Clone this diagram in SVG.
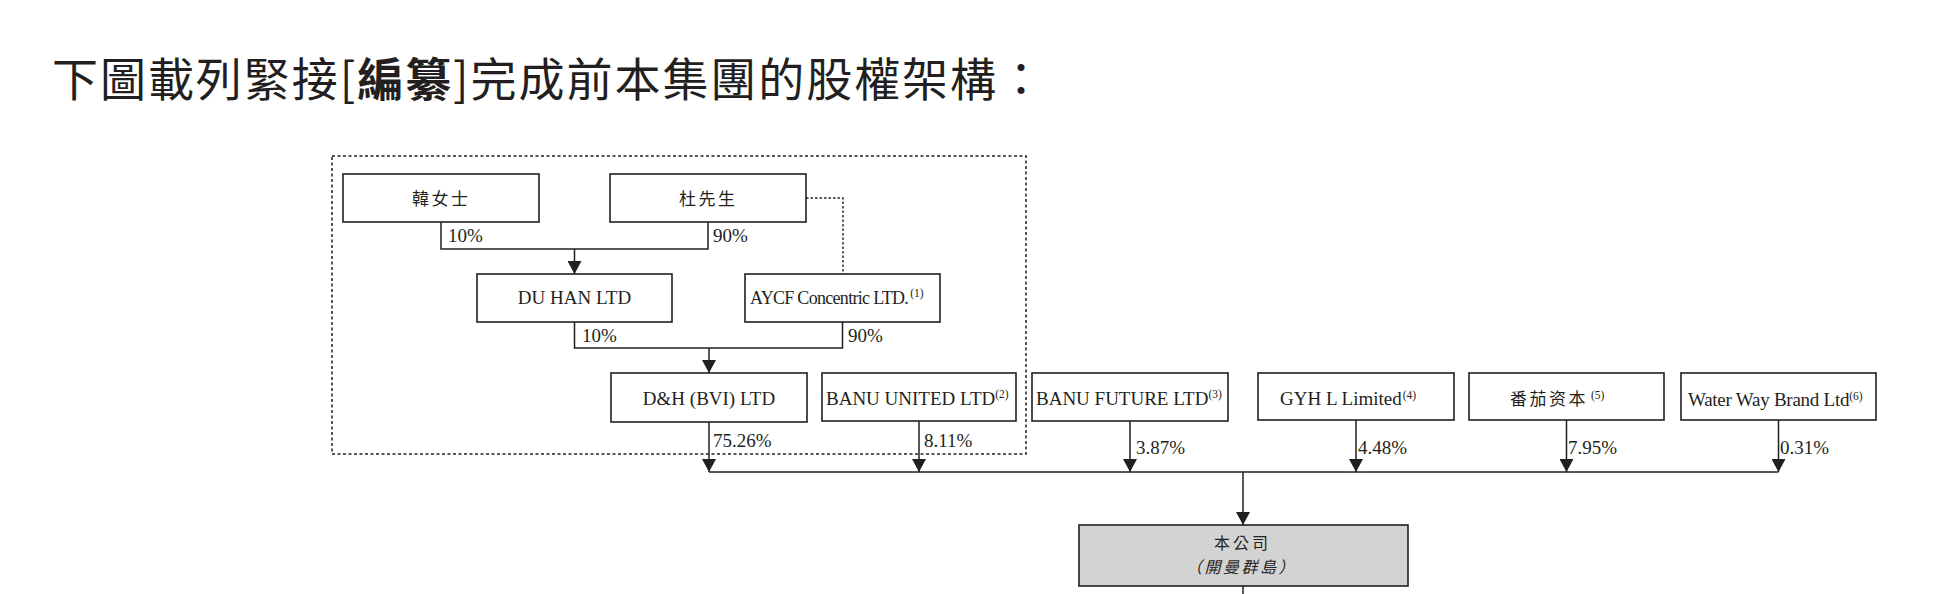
<svg xmlns="http://www.w3.org/2000/svg" width="1960" height="594" viewBox="0 0 1960 594">
<style>
.box{fill:#ffffff;stroke:#231f20;stroke-width:1.6}
.co{fill:#d3d3d3;stroke:#231f20;stroke-width:1.6}
.ln{fill:none;stroke:#231f20;stroke-width:1.5}
.arr{fill:none;stroke:#231f20;stroke-width:1.5;marker-end:url(#ah)}
.dot{fill:none;stroke:#231f20;stroke-width:1.4;stroke-dasharray:2.5 2}
.en{font-family:"Liberation Serif","Times New Roman",serif;font-size:19px;fill:#231f20}
.sup{font-family:"Liberation Serif","Times New Roman",serif;font-size:11.5px;letter-spacing:0;font-style:normal}
.zh{font-family:"Noto Sans CJK TC","Noto Sans CJK SC",sans-serif;font-size:17px;letter-spacing:2.5px;fill:#231f20}
.pct{font-family:"Liberation Serif","Times New Roman",serif;font-size:19px;fill:#231f20}
</style>
<defs>
<marker id="ah" markerUnits="userSpaceOnUse" markerWidth="13" markerHeight="14" viewBox="0 0 13 14" refX="13" refY="7" orient="auto">
<path d="M0,0 L13,7 L0,14 Z" fill="#231f20"/>
</marker>
</defs>
<rect width="1960" height="594" fill="#ffffff"/>
<text id="title" x="52" y="96" textLength="992" lengthAdjust="spacing" style="font-family:'Noto Sans CJK TC','Noto Sans CJK SC',sans-serif;font-size:46px;fill:#231f20">下圖載列緊接[<tspan font-weight="bold">編纂</tspan>]完成前本集團的股權架構：</text>
<rect id="group-boundary" x="332" y="156" width="694" height="298" fill="none" stroke="#231f20" stroke-width="1.5" stroke-dasharray="3 2.5"/>
<g id="connectors">
<path class="ln" d="M441 222 V249 H708 V222"/>
<path class="arr" d="M574.5 249 V274"/>
<path class="ln" d="M574.5 322 V348 H842.5 V322"/>
<path class="arr" d="M709 348 V373"/>
<path class="dot" d="M806 198 H843 V274"/>
<path class="ln" d="M709 472 H1778.5"/>
<path class="arr" d="M709 422 V472"/>
<path class="arr" d="M919 421 V472"/>
<path class="arr" d="M1130 421 V472"/>
<path class="arr" d="M1356 420 V472"/>
<path class="arr" d="M1566.5 420 V472"/>
<path class="arr" d="M1778.5 420 V472"/>
<path class="arr" d="M1243 472 V525"/>
<path class="ln" d="M1243 586 V594"/>
</g>
<g id="labels">
<text class="pct" x="448" y="242">10%</text>
<text class="pct" x="713" y="242">90%</text>
<text class="pct" x="582" y="342">10%</text>
<text class="pct" x="848" y="342">90%</text>
<text class="pct" x="713" y="447">75.26%</text>
<text class="pct" x="924" y="447">8.11%</text>
<text class="pct" x="1136" y="454">3.87%</text>
<text class="pct" x="1358" y="454">4.48%</text>
<text class="pct" x="1568" y="454">7.95%</text>
<text class="pct" x="1780" y="454">0.31%</text>
</g>
<g id="n-han">
<rect class="box" x="343" y="174" width="196" height="48"/>
<text class="zh" x="412" y="205">韓女士</text>
</g>
<g id="n-du">
<rect class="box" x="610" y="174" width="196" height="48"/>
<text class="zh" x="679" y="205">杜先生</text>
</g>
<g id="n-duhan">
<rect class="box" x="477" y="274" width="195" height="48"/>
<text class="en" x="574.5" y="304" text-anchor="middle">DU HAN LTD</text>
</g>
<g id="n-aycf">
<rect class="box" x="745" y="274" width="195" height="48"/>
<text class="en" x="750" y="304" style="font-size:18px;letter-spacing:-0.7px">AYCF Concentric LTD.<tspan class="sup" dx="2" dy="-7">(1)</tspan></text>
</g>
<g id="n-dh">
<rect class="box" x="611" y="373" width="196" height="49"/>
<text class="en" x="709" y="405" text-anchor="middle">D&amp;H (BVI) LTD</text>
</g>
<g id="n-banu-united">
<rect class="box" x="822" y="373" width="194" height="48"/>
<text class="en" x="826" y="405">BANU UNITED LTD<tspan class="sup" dy="-7">(2)</tspan></text>
</g>
<g id="n-banu-future">
<rect class="box" x="1032" y="373" width="196" height="48"/>
<text class="en" x="1036" y="405">BANU FUTURE LTD<tspan class="sup" dy="-7">(3)</tspan></text>
</g>
<g id="n-gyh">
<rect class="box" x="1258" y="373" width="196" height="47"/>
<text class="en" x="1280" y="405">GYH L Limited<tspan class="sup" dx="1" dy="-6">(4)</tspan></text>
</g>
<g id="n-fanqie">
<rect class="box" x="1469" y="373" width="195" height="47"/>
<text class="zh" x="1510" y="405">番茄资本<tspan class="sup" dx="3" dy="-6">(5)</tspan></text>
</g>
<g id="n-waterway">
<rect class="box" x="1681" y="373" width="195" height="47"/>
<text class="en" x="1688" y="406" style="letter-spacing:-0.25px">Water Way Brand Ltd<tspan class="sup" dy="-6">(6)</tspan></text>
</g>
<g id="n-company">
<rect class="co" x="1079" y="525" width="329" height="61"/>
<text class="zh" style="font-size:16px"><tspan x="1214" y="549" style="letter-spacing:3px">本公司</tspan><tspan x="1186" y="573" style="font-style:italic;letter-spacing:2.5px">（開曼群島）</tspan></text>
</g>
</svg>
